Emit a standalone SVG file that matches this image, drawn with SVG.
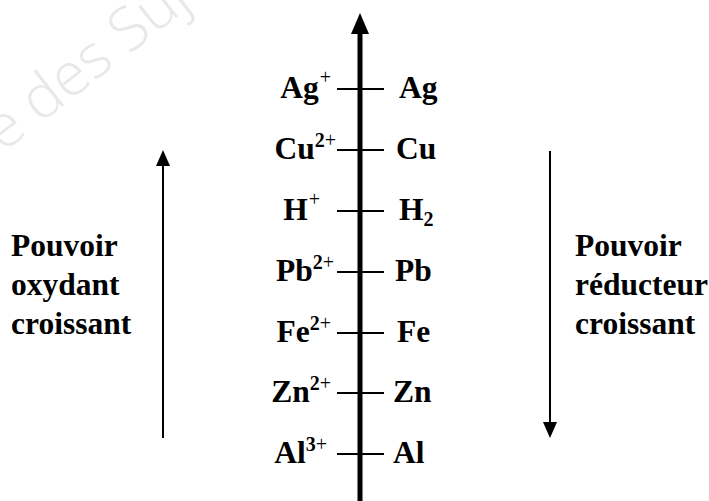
<svg xmlns="http://www.w3.org/2000/svg" width="709" height="501" viewBox="0 0 709 501">
<style>
.lbl{font-family:"Liberation Serif","Times New Roman",serif;font-weight:bold;font-size:31.5px;fill:#000}
.sp{font-size:20px}
.pl{font-weight:normal}
.tick{stroke:#000;stroke-width:2}
.wm{font-family:"Open Sans","DejaVu Sans",sans-serif;font-size:60px;fill:#e8e8e8;font-weight:300}
</style>
<g id="watermark" transform="translate(40,124) rotate(-38)">
<text class="wm" x="-14" text-anchor="end">Banque</text>
<text class="wm" x="0">des Sujets</text>
</g>
<g id="connectors">
<line x1="360" y1="30" x2="360" y2="501" stroke="#000" stroke-width="5"/>
<polygon points="360,13 351,34 369,34" fill="#000"/>
<line x1="163" y1="164" x2="163" y2="438" stroke="#000" stroke-width="2"/>
<polygon points="163,150 156,166 170,166" fill="#000"/>
<line x1="550" y1="151" x2="550" y2="424" stroke="#000" stroke-width="2"/>
<polygon points="550,438 543,422 557,422" fill="#000"/>
</g>
<g id="ticks">
<line class="tick" x1="337" y1="89" x2="384" y2="89"/>
<line class="tick" x1="337" y1="150" x2="384" y2="150"/>
<line class="tick" x1="337" y1="211" x2="384" y2="211"/>
<line class="tick" x1="337" y1="272" x2="384" y2="272"/>
<line class="tick" x1="337" y1="333" x2="384" y2="333"/>
<line class="tick" x1="337" y1="393" x2="384" y2="393"/>
<line class="tick" x1="337" y1="454" x2="384" y2="454"/>
</g>
<g id="couple-ag">
<text class="lbl" x="331" y="98" text-anchor="end">Ag<tspan class="sp pl" dx="1" dy="-14">+</tspan></text>
<text class="lbl" x="399" y="98">Ag</text>
</g>
<g id="couple-cu">
<text class="lbl" x="336" y="159" text-anchor="end">Cu<tspan class="sp" dy="-12">2</tspan><tspan class="sp pl">+</tspan></text>
<text class="lbl" x="396" y="159">Cu</text>
</g>
<g id="couple-h">
<text class="lbl" x="320" y="220" text-anchor="end">H<tspan class="sp pl" dx="1" dy="-14">+</tspan></text>
<text class="lbl" x="399" y="220">H<tspan class="sp" dy="6">2</tspan></text>
</g>
<g id="couple-pb">
<text class="lbl" x="334" y="281" text-anchor="end">Pb<tspan class="sp" dy="-12">2</tspan><tspan class="sp pl">+</tspan></text>
<text class="lbl" x="395" y="281">Pb</text>
</g>
<g id="couple-fe">
<text class="lbl" x="331" y="342" text-anchor="end">Fe<tspan class="sp" dy="-12">2</tspan><tspan class="sp pl">+</tspan></text>
<text class="lbl" x="397" y="342">Fe</text>
</g>
<g id="couple-zn">
<text class="lbl" x="331" y="402" text-anchor="end">Zn<tspan class="sp" dy="-12">2</tspan><tspan class="sp pl">+</tspan></text>
<text class="lbl" x="393" y="402">Zn</text>
</g>
<g id="couple-al">
<text class="lbl" x="327" y="463" text-anchor="end">Al<tspan class="sp" dy="-12">3</tspan><tspan class="sp pl">+</tspan></text>
<text class="lbl" x="393" y="463">Al</text>
</g>
<g id="label-oxydant">
<text class="lbl" x="11" y="256">Pouvoir</text>
<text class="lbl" x="11" y="295">oxydant</text>
<text class="lbl" x="11" y="334">croissant</text>
</g>
<g id="label-reducteur">
<text class="lbl" x="575" y="256">Pouvoir</text>
<text class="lbl" x="575" y="295">réducteur</text>
<text class="lbl" x="575" y="334">croissant</text>
</g>
</svg>
